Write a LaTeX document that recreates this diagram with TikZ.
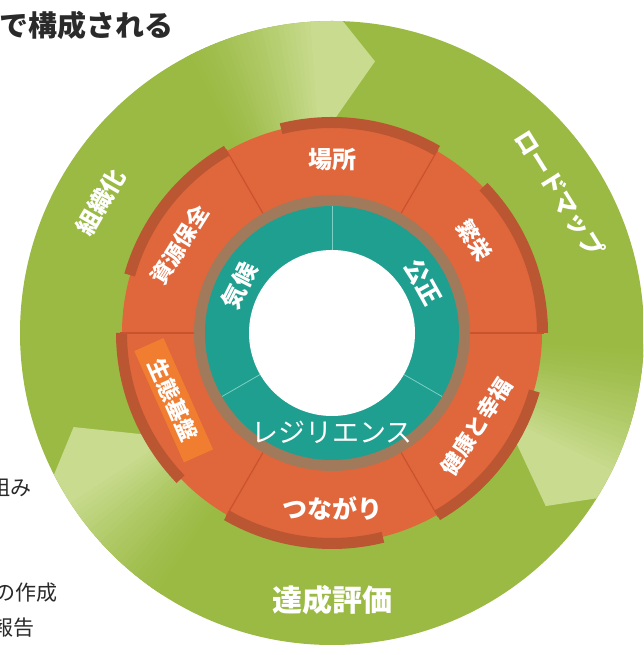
\documentclass[tikz,border=0pt]{standalone}
\usepackage{fontspec}
\newfontfamily\jp{Noto Sans CJK JP}
\definecolor{grn}{HTML}{9ABA44}
\definecolor{grnlt}{HTML}{C8DB8E}
\definecolor{org}{HTML}{E0663B}
\definecolor{orgdk}{HTML}{BA5631}
\definecolor{orgline}{HTML}{C9532F}
\definecolor{orgbox}{HTML}{F07D30}
\definecolor{brn}{HTML}{A17A5C}
\definecolor{tl}{HTML}{1E9F8F}
\definecolor{tline}{HTML}{7CCFC4}
\definecolor{txt}{HTML}{2A2A2A}
\newcommand\annsec[5]{\fill[#1] (#2:#4) arc[start angle=#2, end angle=#3, radius=#4] -- (#3:#5) arc[start angle=#3, end angle=#2, radius=#5] -- cycle;}
\newcommand\arrhead[1]{%
  \foreach \k in {0,...,24}{%
    \pgfmathsetmacro\aa{#1+37-\k}%
    \pgfmathsetmacro\bb{#1+37-\k-1.4}%
    \pgfmathsetmacro\pp{100*(\k/24)^1.3}%
    \annsec{grnlt!\pp!grn}{\aa}{\bb}{205pt}{312pt}}%
  \fill[grnlt] (#1+12.5:312pt) arc[start angle=#1+12.5, end angle=#1+7, radius=312pt] -- (#1:275pt) -- (#1+10:205pt) arc[start angle=#1+10, end angle=#1+12.5, radius=205pt] -- cycle;}
\tikzset{
  lbl/.style={text=white, inner sep=0pt, font=\jp\bfseries\fontsize{22}{22}\selectfont},
  biglbl/.style={text=white, inner sep=0pt, font=\jp\bfseries\fontsize{25}{25}\selectfont},
  side/.style={text=txt, inner sep=0pt, anchor=east, font=\jp\fontsize{21}{21}\selectfont}
}
\begin{document}
\begin{tikzpicture}[x=1pt,y=1pt]
\useasboundingbox (0,0) rectangle (643,655);
\clip (0,0) rectangle (643,655);
\fill[white] (0,0) rectangle (643,655);
% side texts (cut at the left edge)
\node[text=txt, inner sep=0pt, anchor=west, font=\jp\bfseries\fontsize{29}{29}\selectfont] (title) at (-1,630) {で構成される};
\node[side] (s1) at (32,167) {組み};
\node[side] (s2) at (58,62) {の作成};
\node[side] (s3) at (35,27) {報告};
\begin{scope}[shift={(332,322)}]
  % green ring
  \fill[grn] (0,0) circle[radius=312pt];
  \arrhead{81}
  \arrhead{-39}
  \arrhead{-160}
  % orange ring
  \foreach \a in {90,30,-30,-90,-150,150}{\annsec{org}{\a-30}{\a+30}{135pt}{210pt}}
  \foreach \a in {90,30,-30,-90,-150,150}{\annsec{orgdk}{\a-30}{\a+14}{205pt}{216pt}}
  \foreach \b in {0,60,...,300}{\draw[orgline, line width=1.2pt] (\b:138pt) -- (\b:212pt);}
  % brown and teal rings
  \fill[brn] (0,0) circle[radius=138pt];
  \fill[tl] (0,0) circle[radius=127pt];
  \foreach \b in {90,-30,210}{\draw[tline, line width=0.8pt] (\b:83pt) -- (\b:127pt);}
  \fill[white] (0,0) circle[radius=83pt];
  % orange labels
  \node[lbl, font=\jp\bfseries\fontsize{24}{24}\selectfont] (basho) at (90:173pt) {場所};
  \node[lbl, rotate=-58] (han) at (33:170pt) {繁栄};
  \node[lbl, rotate=57] (kenko) at (-33:172pt) {健康と幸福};
  \node[biglbl] (tsuna) at (-90:175pt) {つながり};
  \node[fill=orgbox, rotate=-66, minimum width=122pt, minimum height=32pt, inner sep=0pt] (boxs) at (-157:172pt) {};
  \node[lbl, rotate=-66] (seitai) at (boxs.center) {生態基盤};
  \node[lbl, rotate=58] (shigen) at (150:176pt) {資源保全};
  % teal labels
  \node[lbl, font=\jp\bfseries\fontsize{24}{24}\selectfont, rotate=63] (kiko) at (153:104pt) {気候};
  \node[lbl, font=\jp\bfseries\fontsize{24}{24}\selectfont, rotate=-61] (kosei) at (29:104pt) {公正};
  \node[text=white, inner sep=0pt, font=\jp\fontsize{27}{27}\selectfont] (resi) at (-90:99pt) {レジリエンス};
  % green labels
  \node[lbl, font=\jp\bfseries\fontsize{24}{24}\selectfont, rotate=60] (soshiki) at (150.5:266pt) {組織化};
  \node[lbl, font=\jp\bfseries\fontsize{24}{24}\selectfont, rotate=-58] (road) at (31.5:267pt) {ロードマップ};
  \node[lbl, font=\jp\bfseries\fontsize{30}{30}\selectfont] (tassei) at (-90:267pt) {達成評価};
\end{scope}
\end{tikzpicture}
\end{document}
